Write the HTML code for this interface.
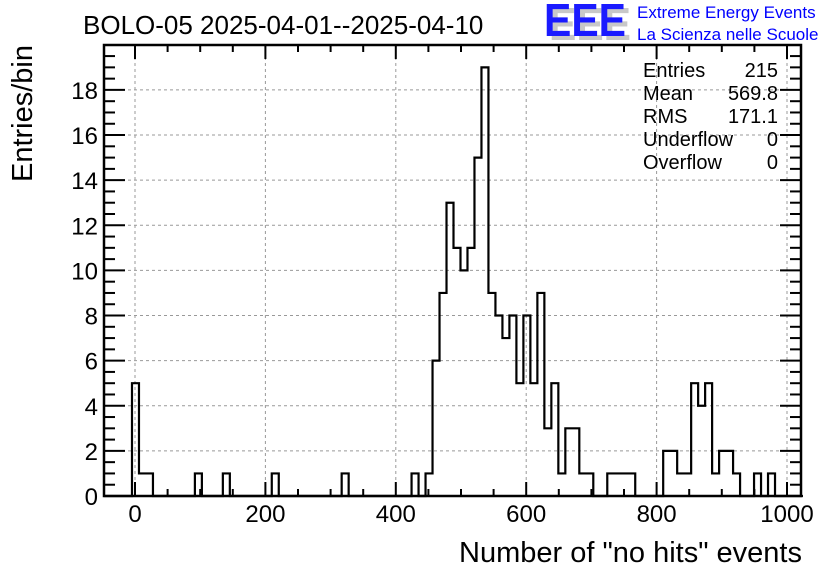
<!DOCTYPE html>
<html><head><meta charset="utf-8"><style>
body{margin:0;background:#fff;}
svg{display:block;font-family:"Liberation Sans",sans-serif;}
</style></head><body>
<svg id="c" width="836" height="572" viewBox="0 0 836 572">
<rect width="836" height="572" fill="#fff"/>
<text x="83" y="34" font-size="26">BOLO-05 2025-04-01--2025-04-10</text>
<g font-weight="bold" font-size="46">
<text x="549" y="40" fill="#c8c8c8" textLength="82" lengthAdjust="spacingAndGlyphs">EEE</text>
<text x="544" y="36" fill="#1a1aff" textLength="82" lengthAdjust="spacingAndGlyphs">EEE</text>
</g>
<text x="637" y="18" font-size="17" fill="#0000ff">Extreme Energy Events</text>
<text x="637" y="40" font-size="17" fill="#0000ff">La Scienza nelle Scuole</text>
<g id="grid"></g>
<g id="hist"></g>
<g id="axes"></g>
<g font-size="20">
<text x="643" y="77">Entries</text><text x="778" y="77" text-anchor="end">215</text>
<text x="643" y="100">Mean</text><text x="778" y="100" text-anchor="end">569.8</text>
<text x="643" y="123">RMS</text><text x="778" y="123" text-anchor="end">171.1</text>
<text x="643" y="146">Underflow</text><text x="778" y="146" text-anchor="end">0</text>
<text x="643" y="169">Overflow</text><text x="778" y="169" text-anchor="end">0</text>
</g>
<text x="802" y="562" font-size="29" text-anchor="end">Number of "no hits" events</text>
<text transform="translate(32,45) rotate(-90)" font-size="29" text-anchor="end">Entries/bin</text>
</svg>
<script>
const binStart = -47.5;
const binWidth = 10.72;
const counts = [0,0,0,0,5,1,1,0,0,0, 0,0,0,1,0,0,0,1,0,0, 0,0,0,0,1,0,0,0,0,0, 0,0,0,0,1,0,0,0,0,0, 0,0,0,0,1,0,1,6,9,13, 11,10,11,15,19,9,8,7,8,5, 8,5,9,3,5,1,3,3,1,1, 0,0,1,1,1,1,0,0,0,0, 2,2,1,1,5,4,5,1,2,2, 1,0,0,1,0,1,0,0,0,0];
const xTicks = [0,200,400,600,800,1000];
const yTicks = [0,2,4,6,8,10,12,14,16,18];
const L=104,R=801,T=45,B=496;
const X=v=>135+0.652*v;
const Y=v=>B-22.56*v;
const NS="http://www.w3.org/2000/svg";
function mk(tag,attrs,parent){const e=document.createElementNS(NS,tag);for(const k in attrs)e.setAttribute(k,attrs[k]);parent.appendChild(e);return e;}
const grid=document.getElementById('grid'),axes=document.getElementById('axes'),hist=document.getElementById('hist');
xTicks.forEach(t=>{const l=mk('line',{x1:X(t),x2:X(t),y1:T,y2:B,stroke:'#999','stroke-dasharray':'3,3','stroke-width':1},grid);

});
yTicks.forEach(t=>{if(t===0)return;const l=mk('line',{x1:L,x2:R,y1:Y(t),y2:Y(t),stroke:'#999','stroke-dasharray':'3,3','stroke-width':1},grid);

});
let d='M'+X(binStart)+','+B;
counts.forEach((c,i)=>{const x0=X(binStart+i*binWidth),x1=X(binStart+(i+1)*binWidth);d+=' L'+x0+','+Y(c)+' L'+x1+','+Y(c);});
d+=' L'+X(binStart+counts.length*binWidth)+','+B;
const hp=mk('path',{d:d,fill:'none',stroke:'#000','stroke-width':2.2},hist);


const fr=mk('rect',{x:L,y:T,width:R-L,height:B-T,fill:'none',stroke:'#000','stroke-width':2.5},axes);


for(let v=-50;v<=1020;v+=50){const x=X(v);if(x<L||x>R)continue;const len=(v%200===0)?14:7;
mk('line',{x1:x,x2:x,y1:B,y2:B-len,stroke:'#000','stroke-width':2},axes);
mk('line',{x1:x,x2:x,y1:T,y2:T+len,stroke:'#000','stroke-width':2},axes);}
for(let v=0;v<=19.9;v+=0.5){const y=Y(v);const len=(Math.abs(v%2)<1e-6)?21:11;
mk('line',{x1:L,x2:L+len,y1:y,y2:y,stroke:'#000','stroke-width':2},axes);
mk('line',{x1:R,x2:R-len,y1:y,y2:y,stroke:'#000','stroke-width':2},axes);}
xTicks.forEach(t=>{const tx=mk('text',{x:X(t),y:522,'font-size':24,'text-anchor':'middle'},axes);tx.textContent=t;

});
yTicks.forEach(t=>{const tx=mk('text',{x:98,y:Y(t)+9,'font-size':24,'text-anchor':'end'},axes);tx.textContent=t;

});
</script>
</body></html>
